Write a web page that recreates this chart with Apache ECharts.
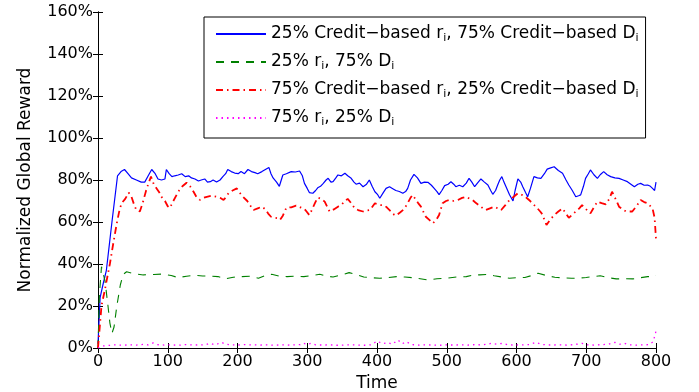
<!DOCTYPE html>
<html>
<head>
<meta charset="utf-8">
<script src="https://cdn.jsdelivr.net/npm/echarts@6/dist/echarts.min.js"></script>
<style>
  html, body { margin: 0; padding: 0; background: #fff; }
  #chart { width: 699px; height: 392px; }
</style>
</head>
<body>
<div id="chart"></div>
<script>
// Axis ticks
const xTicks = [0, 100, 200, 300, 400, 500, 600, 700, 800];
const yTickLabels = ['0%', '20%', '40%', '60%', '80%', '100%', '120%', '140%', '160%'];

// Legend text, split so the "i" pieces can be drawn as subscripts
const legendParts = [
  ['25% Credit−based r', 'i', ', 75% Credit−based D', 'i'],
  ['25% r', 'i', ', 75% D', 'i'],
  ['75% Credit−based r', 'i', ', 25% Credit−based D', 'i'],
  ['75% r', 'i', ', 25% D', 'i']
];

// [time, normalized global reward %]
const creditBased25 = [
  [0,2],[3,24],[7,30],[12,37],[20,60],[28,82],[33,84],[38,85],[43,83],[48,81],[55,80],[62,79],[67,79],[72,82],[77,85],
  [82,83],[86,80.5],[91,80],[96,80.5],[98,85],[102,83],[106,81.6],[110,82],[115,82.4],[120,83],[125,81.6],[130,82],
  [134,81],[139,80.5],[144,79.5],[148,80],[153,80.5],[157,79],[161,79.2],[165,80],[170,79],[175,80],[179,81.6],[183,83],
  [186,85],[191,84],[196,83.3],[201,83],[205,84],[210,83],[215,85],[220,84],[225,83.5],[229,83],[235,84],[240,85],
  [245,86],[248,83],[251,81],[256,79],[260,77],[265,82.4],[270,83],[277,84],[283,83.8],[289,84.3],[293,82],[296,78.4],
  [300,76],[303,74],[308,73.7],[312,75],[315,76.3],[319,77],[323,78.4],[327,80],[330,80.8],[334,79],[337,79.2],[341,81],
  [344,82.4],[349,82],[354,83.2],[358,82],[363,80.8],[367,79],[370,78],[375,78.5],[380,76.8],[385,78],[389,80],[393,77],
  [397,74.4],[401,73],[404,71.3],[409,74],[413,76],[418,76.8],[422,76],[427,75],[432,74.5],[437,73.7],[441,74.5],[444,76],
  [448,80],[453,82.7],[458,81],[463,78.4],[468,79],[473,78.9],[478,77.5],[482,76],[486,74.5],[489,73],[493,75],[497,77.3],
  [502,78],[506,79.2],[510,78],[513,76.8],[518,77.5],[523,76.8],[528,78.5],[532,80.8],[536,79],[540,76.8],[544,78.5],
  [549,80.5],[554,79],[559,77.6],[563,75],[566,73.2],[570,75],[573,77.6],[576,80],[579,81.6],[582,79],[585,76.8],[590,73],
  [595,70],[598,75],[602,80.5],[606,79],[609,76.8],[613,74],[616,72],[620,76],[625,81.6],[630,81],[635,80.8],[640,83],
  [644,85.2],[649,85.8],[654,86.3],[660,84.5],[666,83.2],[671,80],[675,77.6],[680,75],[685,72],[689,72.5],[692,72.9],
  [696,77],[699,80.8],[703,83],[706,84.8],[711,82.5],[716,80.8],[720,82.5],[725,84],[730,82.5],[735,81.6],[741,81],
  [747,80.8],[753,80],[759,79.2],[764,78],[769,76.8],[774,78],[778,78.4],[783,77.5],[788,77.6],[792,77],[795,76],
  [798,75],[800,79]
];

const plain25 = [
  [0,0],[2,25],[5,38.7],[7,36],[10,32],[14,21],[17,12],[20,7],[23,10],[27,20],[32,30],[36,35],[41,36.3],[50,35.5],
  [65,34.8],[80,35],[93,35.2],[105,34.5],[115,33.5],[127,34.2],[139,34.6],[150,34.3],[160,34.3],[172,34],[182,32.9],
  [194,33.7],[206,34],[218,34.2],[230,33.2],[240,34.5],[249,35.1],[260,34.2],[271,34],[283,34.2],[295,34],[307,34.5],
  [318,35.1],[328,34.2],[337,33.8],[349,34.8],[360,35.9],[370,35],[381,33.8],[392,33.5],[404,33.2],[416,33.5],[428,34],
  [440,33.8],[451,33.5],[462,33],[473,32.4],[486,33],[500,33.2],[514,33.8],[528,34],[538,34.8],[547,34.8],[558,35],
  [568,34.4],[579,33.8],[590,33.2],[601,33.5],[612,33.6],[622,34.5],[631,35.6],[643,34.5],[655,33.7],[667,33.4],
  [679,33.2],[690,33.3],[700,33.6],[710,34],[720,34.4],[732,33.5],[743,32.9],[755,33],[767,32.9],[778,33.5],[788,34],
  [795,34],[800,34.4]
];

const creditBased75 = [
  [0,0],[2,8],[5,20],[10,28],[17,40],[22,50],[27,59.5],[31,66],[34,69],[39,71],[44,74],[48,72],[52,68],[55,65.7],
  [60,65],[64,69],[69,75],[73,79],[76,81.6],[80,78],[84,76],[88,74],[91,72],[96,70],[100,67.5],[103,66.7],[108,70],
  [115,74.4],[121,77],[127,78.7],[132,77],[137,74.4],[141,72],[146,70.5],[151,71.5],[156,72],[163,72.5],[170,72],
  [175,71.5],[180,70.5],[184,72],[187,73.7],[193,75],[199,76],[203,74],[208,72],[214,70],[218,68],[223,65.7],[229,66.5],
  [235,67.3],[240,66],[244,64],[248,62.5],[254,62],[258,61.8],[261,61],[265,63],[270,66.8],[277,67],[284,67.8],[290,67],
  [296,66.2],[299,65],[303,63.3],[307,66],[311,69],[315,71.6],[320,71],[325,69.7],[329,67],[332,65],[338,66],[344,67.3],
  [350,68.5],[354,70],[358,71],[363,69],[368,66.5],[374,65.5],[380,65],[385,65.5],[390,65.7],[397,68.9],[401,68.5],
  [406,68],[410,68],[414,67],[418,65.7],[422,64],[427,63],[433,64.5],[439,66.2],[444,69],[448,71.5],[451,72.9],[455,71],
  [459,69],[463,67.3],[467,64.5],[470,62.5],[475,61],[480,59.4],[485,61],[489,63.3],[494,68.9],[499,70],[504,70.5],
  [510,70],[516,70.5],[522,71.5],[528,72],[533,71],[537,70.5],[542,69],[547,67.8],[552,66.5],[556,65.7],[562,66.5],
  [568,67.3],[573,66.5],[578,65.7],[584,68],[590,70.5],[596,72],[602,73.7],[607,73],[611,72.5],[618,70.5],[624,68.5],
  [630,66.5],[634,65],[637,63.7],[640,61],[643,58.6],[648,61],[654,63.3],[660,65],[666,66.5],[671,64],[675,62],
  [680,63.5],[685,65],[690,66.5],[694,68],[700,66],[706,64.1],[711,67],[716,69.7],[722,69],[728,68.4],[733,71],
  [737,74.4],[742,71],[747,67.3],[752,66],[757,65],[762,65],[766,65],[772,67.5],[778,70.5],[783,69.5],[788,68.9],
  [795,66.5],[798,62],[800,52]
];

const plain75 = [
  [0,0],[3,0.5],[8,1],[15,1.2],[25,1.5],[35,1.3],[45,1.5],[55,1.4],[65,1.7],[72,1.5],[79,2.4],[85,1.6],[95,1.4],
  [105,1.5],[115,1.3],[125,1.6],[135,1.5],[145,1.4],[155,1.6],[160,2.2],[168,1.5],[177,2.7],[183,1.8],[190,1.5],
  [200,1.4],[210,1.6],[220,1.5],[232,1.4],[242,1.5],[252,1.3],[262,1.5],[272,1.4],[282,1.5],[290,1.6],[294,2.3],
  [300,1.7],[305,2.2],[312,1.5],[322,1.4],[332,1.5],[342,1.3],[352,1.4],[362,1.5],[372,1.4],[382,1.3],[392,1.5],
  [400,3.3],[408,2],[415,2.6],[422,1.8],[430,3.8],[436,2],[442,3],[450,1.6],[460,1.4],[470,1.5],[480,1.4],[490,1.3],
  [500,1.5],[510,1.4],[520,1.5],[530,1.4],[540,1.6],[550,1.5],[558,1.8],[564,2.2],[572,1.8],[580,2.2],[588,1.5],
  [598,1.4],[608,1.5],[618,1.6],[628,2.7],[635,1.8],[642,1.5],[652,1.4],[662,1.5],[672,1.4],[682,1.6],[694,2.2],
  [702,1.5],[712,1.4],[722,1.6],[732,1.8],[741,2.7],[748,1.8],[755,2.2],[762,1.5],[772,1.4],[782,1.5],[790,1.6],
  [796,3],[800,8]
];

const FONT = 'DejaVu Sans';
const seriesNames = legendParts.map(p => p.join(''));
const richLegend = {};
legendParts.forEach((p, i) => {
  richLegend[seriesNames[i]] = '{t|' + p[0] + '}{s|' + p[1] + '}{t|' + p[2] + '}{s|' + p[3] + '}';
});

const axisCommon = {
  type: 'value',
  axisLine: { show: true, lineStyle: { color: '#000', width: 1 } },
  axisTick: { show: true, inside: true, length: 5, lineStyle: { color: '#000', width: 1 } },
  splitLine: { show: false }
};

const chart = echarts.init(document.getElementById('chart'), null, { renderer: 'canvas' });
chart.setOption({
  animation: false,
  backgroundColor: '#fff',
  grid: { left: 98, right: 43, top: 12, bottom: 44, containLabel: false, outerBoundsMode: 'none' },
  xAxis: [
    Object.assign({}, axisCommon, {
      position: 'bottom', min: xTicks[0], max: xTicks[xTicks.length - 1], interval: 100,
      axisLabel: { color: '#000', fontFamily: FONT, fontSize: 16, margin: 6 },
      name: 'Time', nameLocation: 'middle', nameGap: 27,
      nameTextStyle: { color: '#000', fontFamily: FONT, fontSize: 17 }
    }),
    Object.assign({}, axisCommon, {
      position: 'top', min: xTicks[0], max: xTicks[xTicks.length - 1], interval: 100,
      axisLabel: { show: false }
    })
  ],
  yAxis: [
    Object.assign({}, axisCommon, {
      position: 'left', min: 0, max: 160, interval: 20,
      axisLabel: {
        color: '#000', fontFamily: FONT, fontSize: 16, margin: 5,
        formatter: (v, i) => yTickLabels[i]
      },
      name: 'Normalized Global Reward', nameLocation: 'middle', nameGap: 64,
      nameTextStyle: { color: '#000', fontFamily: FONT, fontSize: 17 }
    }),
    Object.assign({}, axisCommon, {
      position: 'right', min: 0, max: 160, interval: 20,
      axisLabel: { show: false }
    })
  ],
  legend: {
    orient: 'vertical', left: 204, top: 17,
    padding: [7, 7, 10, 11], itemGap: 8, itemWidth: 50, itemHeight: 20,
    backgroundColor: '#fff', borderColor: '#000', borderWidth: 1, borderRadius: 0,
    selectedMode: false,
    data: seriesNames,
    itemStyle: { opacity: 0, borderWidth: 0 },
    formatter: name => richLegend[name],
    textStyle: {
      color: '#000', fontFamily: FONT, fontSize: 17,
      rich: {
        t: { color: '#000', fontFamily: FONT, fontSize: 17, lineHeight: 20 },
        s: { color: '#000', fontFamily: FONT, fontSize: 11, lineHeight: 20, verticalAlign: 'bottom', padding: [9, 0, 0, 0] }
      }
    }
  },
  series: [
    {
      name: seriesNames[0], type: 'line', data: creditBased25,
      symbol: 'none', showSymbol: false,
      lineStyle: { color: '#0000ff', width: 1.2, type: 'solid' }, itemStyle: { color: '#0000ff' }
    },
    {
      name: seriesNames[1], type: 'line', data: plain25,
      symbol: 'none', showSymbol: false,
      lineStyle: { color: '#008000', width: 1.1, type: [8, 7] }, itemStyle: { color: '#008000' }
    },
    {
      name: seriesNames[2], type: 'line', data: creditBased75,
      symbol: 'none', showSymbol: false,
      lineStyle: { color: '#ff0000', width: 1.8, type: [7, 4, 1.5, 4] }, itemStyle: { color: '#ff0000' }
    },
    {
      name: seriesNames[3], type: 'line', data: plain75,
      symbol: 'none', showSymbol: false,
      lineStyle: { color: '#ff00ff', width: 1.3, type: [1.5, 4] }, itemStyle: { color: '#ff00ff' }
    }
  ]
});
</script>
</body>
</html>
